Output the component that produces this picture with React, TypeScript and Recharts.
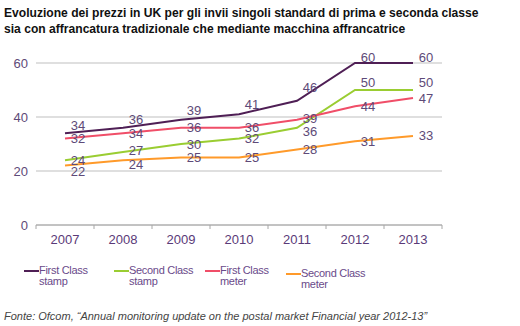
import { CartesianGrid, LabelList, Line, LineChart, XAxis, YAxis } from 'recharts';

const years = ['2007', '2008', '2009', '2010', '2011', '2012', '2013'];
const firstStamp = [34, 36, 39, 41, 46, 60, 60];
const secondStamp = [24, 27, 30, 32, 36, 50, 50];
const firstMeter = [32, 34, 36, 36, 39, 44, 47];
const secondMeter = [22, 24, 25, 25, 28, 31, 33];
const yTicks = [0, 20, 40, 60];

const data = years.map((year, i) => ({
  year,
  firstStamp: firstStamp[i],
  secondStamp: secondStamp[i],
  firstMeter: firstMeter[i],
  secondMeter: secondMeter[i],
}));

const TEXT = '#5e4a78';
const FONT = '"Liberation Sans", Arial, sans-serif';
const PLOT_LEFT = 36;
const PLOT_RIGHT = 442;
const BAND = (PLOT_RIGHT - PLOT_LEFT) / years.length;

// vertical nudges for the value labels, per series and point
const labelDy: Record<string, number[]> = {
  firstStamp: [-8, -8, -9, -10, -13, -6, -6],
  secondStamp: [0, -2, 0, 0, 4, -8, -8],
  firstMeter: [0, 0, 0, 0, -1, 0, 0],
  secondMeter: [6, 4, 0, 0, 0, 0, 0],
};

const series = [
  { key: 'firstStamp', name: ['First Class', 'stamp'], color: '#4f1f55', legendX: 24, legendY: 271 },
  { key: 'secondStamp', name: ['Second Class', 'stamp'], color: '#9acd32', legendX: 114, legendY: 271 },
  { key: 'firstMeter', name: ['First Class', 'meter'], color: '#f04e68', legendX: 205, legendY: 271 },
  { key: 'secondMeter', name: ['Second Class', 'meter'], color: '#ff9a2a', legendX: 286, legendY: 274 },
];

function valueLabel(key: string) {
  return (props: any) => {
    const { x, y, value, index } = props;
    return (
      <text
        x={x + 13}
        y={y + labelDy[key][index]}
        textAnchor="middle"
        dominantBaseline="central"
        fill={TEXT}
        fontSize={13}
        fontFamily={FONT}
      >
        {value}
      </text>
    );
  };
}

function YearTick(props: any) {
  const { x, y, payload, index } = props;
  return (
    <g>
      <line x1={x - BAND / 2} x2={x - BAND / 2} y1={y} y2={y + 4} stroke="#a6a6a6" />
      {index === years.length - 1 && (
        <line x1={x + BAND / 2} x2={x + BAND / 2} y1={y} y2={y + 4} stroke="#a6a6a6" />
      )}
      <text
        x={x}
        y={y + 14}
        textAnchor="middle"
        dominantBaseline="central"
        fill="#5a3a78"
        fontSize={13}
        fontFamily={FONT}
      >
        {payload.value}
      </text>
    </g>
  );
}

export default function App() {
  return (
    <div
      style={{
        position: 'absolute',
        top: 0,
        left: 0,
        width: 520,
        height: 326,
        background: '#fff',
        fontFamily: FONT,
      }}
    >
      <div
        style={{
          position: 'absolute',
          top: 5,
          left: 4,
          fontSize: 12.1,
          fontWeight: 'bold',
          lineHeight: '16px',
          color: '#111',
          whiteSpace: 'nowrap',
        }}
      >
        Evoluzione dei prezzi in UK per gli invii singoli standard di prima e seconda classe
        <br />
        sia con affrancatura tradizionale che mediante macchina affrancatrice
      </div>
      <div style={{ position: 'absolute', top: 0, left: 0 }}>
        <LineChart
          width={520}
          height={326}
          data={data}
          margin={{ top: 63, right: 520 - PLOT_RIGHT, bottom: 71, left: 0 }}
        >
          <CartesianGrid vertical={false} stroke="#bfbfbf" />
          <XAxis
            dataKey="year"
            stroke="#a6a6a6"
            tickLine={false}
            tickSize={0}
            tickMargin={0}
            height={30}
            interval={0}
            padding={{ left: BAND / 2, right: BAND / 2 }}
            tick={<YearTick />}
          />
          <YAxis
            width={PLOT_LEFT}
            domain={[0, 60]}
            ticks={yTicks}
            axisLine={false}
            tickLine={false}
            tick={{ fill: TEXT, fontSize: 13, fontFamily: FONT }}
          />
          {series.map((s) => (
            <Line
              key={s.key}
              type="linear"
              dataKey={s.key}
              stroke={s.color}
              strokeWidth={2}
              dot={false}
              isAnimationActive={false}
            >
              <LabelList dataKey={s.key} content={valueLabel(s.key)} />
            </Line>
          ))}
        </LineChart>
      </div>
      {series.map((s) => (
        <div
          key={s.key}
          style={{
            position: 'absolute',
            left: s.legendX,
            top: s.legendY - 6,
            display: 'flex',
            alignItems: 'flex-start',
            fontSize: 11,
            lineHeight: '11px',
            color: '#6a4a8a',
            letterSpacing: -0.3,
          }}
        >
          <span
            style={{
              display: 'inline-block',
              width: 15,
              height: 2,
              marginTop: 5,
              background: s.color,
            }}
          />
          <span>
            {s.name[0]}
            <br />
            {s.name[1]}
          </span>
        </div>
      ))}
      <div
        style={{
          position: 'absolute',
          left: 4,
          top: 310,
          fontSize: 11,
          fontStyle: 'italic',
          color: '#444',
          whiteSpace: 'nowrap',
        }}
      >
        Fonte: Ofcom, “Annual monitoring update on the postal market Financial year 2012-13”
      </div>
    </div>
  );
}
